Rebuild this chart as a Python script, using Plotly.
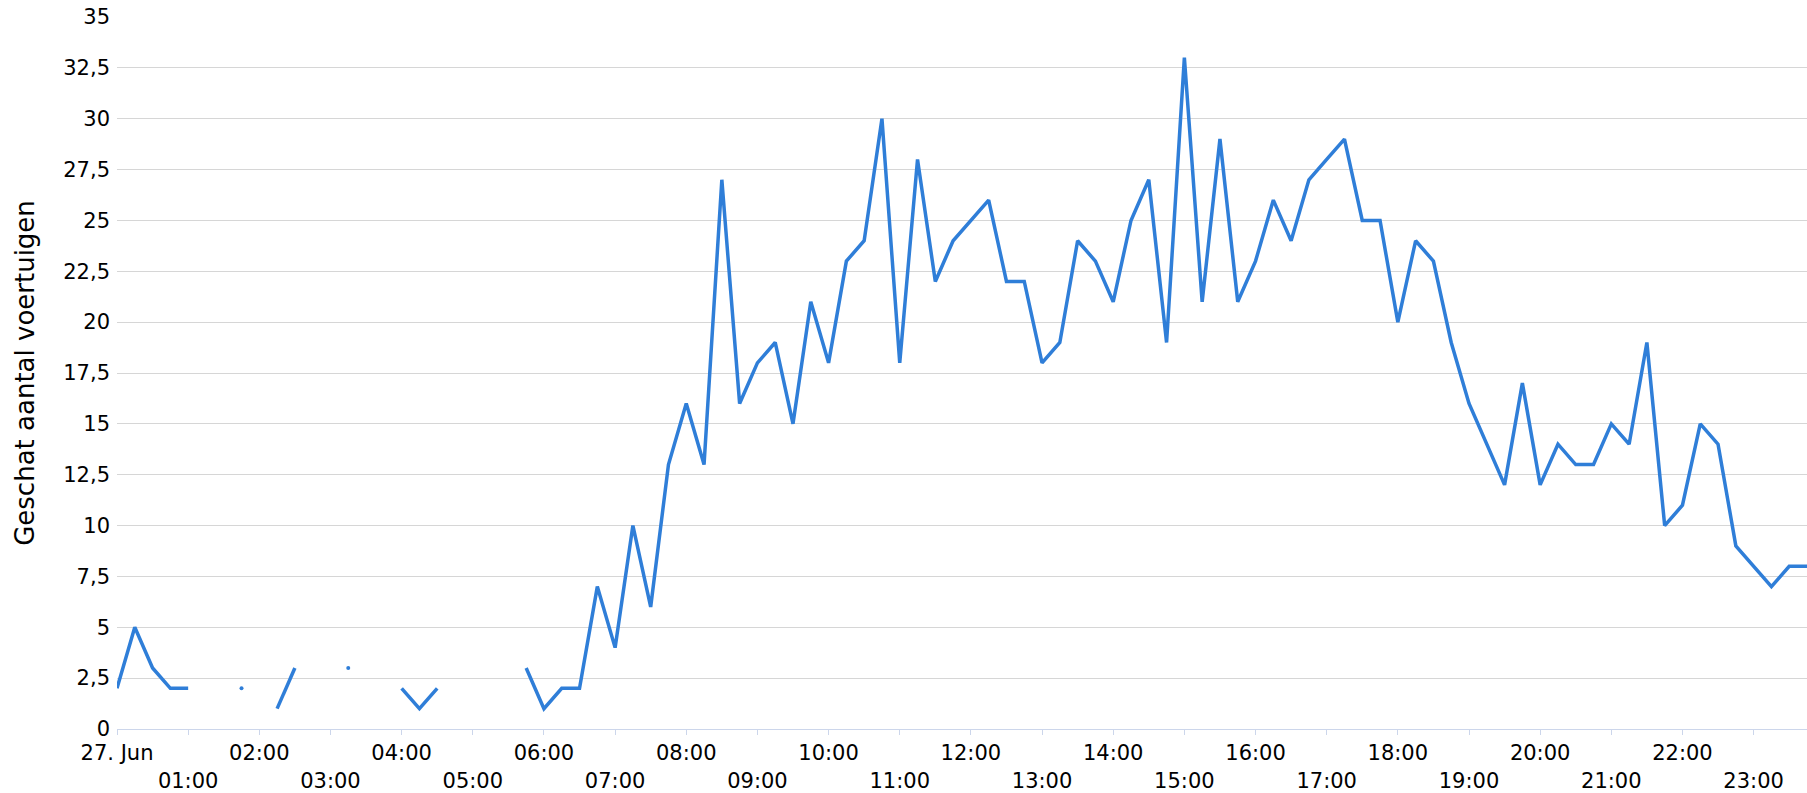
import pandas as pd
import plotly.graph_objects as go

# ---- data (15-minute intervals, 27 June) ----
times = pd.date_range("2024-06-27 00:00", periods=96, freq="15min")
vehicles = [
    2, 5, 3, 2, 2, None, None, 2,            # 00:00 - 01:45
    None, 1, 3, None, None, 3, None, None,   # 02:00 - 03:45
    2, 1, 2, None, None, None, None, 3,      # 04:00 - 05:45
    1, 2, 2, 7, 4, 10, 6, 13,                # 06:00 - 07:45
    16, 13, 27, 16, 18, 19, 15, 21,          # 08:00 - 09:45
    18, 23, 24, 30, 18, 28, 22, 24,          # 10:00 - 11:45
    25, 26, 22, 22, 18, 19, 24, 23,          # 12:00 - 13:45
    21, 25, 27, 19, 33, 21, 29, 21,          # 14:00 - 15:45
    23, 26, 24, 27, 28, 29, 25, 25,          # 16:00 - 17:45
    20, 24, 23, 19, 16, 14, 12, 17,          # 18:00 - 19:45
    12, 14, 13, 13, 15, 14, 19, 10,          # 20:00 - 21:45
    11, 15, 14, 9, 8, 7, 8, 8,               # 22:00 - 23:45
]
hour_ticks = pd.date_range("2024-06-27 00:00", periods=24, freq="1h")
hour_labels = ["27. Jun"] + [f"{h:02d}:00" for h in range(1, 24)]
y_ticks = [i * 2.5 for i in range(15)]
y_title = "Geschat aantal voertuigen"

LINE = "#2f7ed8"
FONT = "DejaVu Sans"

# staggered labels: odd hours on second row
tick_text = [lab if i % 2 == 0 else "<br>" + lab for i, lab in enumerate(hour_labels)]

# isolated points (no neighbours) are drawn as dots
iso_x, iso_y = [], []
for i, v in enumerate(vehicles):
    if v is None:
        continue
    prev_none = i == 0 or vehicles[i - 1] is None
    next_none = i == len(vehicles) - 1 or vehicles[i + 1] is None
    if prev_none and next_none:
        iso_x.append(times[i])
        iso_y.append(v)

fig = go.Figure()
fig.add_trace(go.Scatter(x=times, y=vehicles, mode="lines",
                         line=dict(color=LINE, width=3.5), connectgaps=False,
                         showlegend=False))
fig.add_trace(go.Scatter(x=iso_x, y=iso_y, mode="markers",
                         marker=dict(color=LINE, size=4), showlegend=False))

fig.update_layout(
    width=1807, height=793,
    margin=dict(l=117, r=0, t=17, b=64),
    paper_bgcolor="white", plot_bgcolor="white",
    separators=", ",
    font=dict(family=FONT, size=21, color="#000000"),
    xaxis=dict(
        range=[times[0], times[-1]],
        tickvals=list(hour_ticks), ticktext=tick_text,
        tickangle=0,
        ticks="outside", ticklen=5, tickcolor="#ccd6eb", tickwidth=1,
        showline=True, linecolor="#ccd6eb", linewidth=1,
        showgrid=False, zeroline=False,
        tickfont=dict(family=FONT, size=21, color="#000000"),
        fixedrange=True,
    ),
    yaxis=dict(
        range=[0, 35], tickvals=y_ticks,
        showgrid=True, gridcolor="#d6d6d6", gridwidth=1,
        zeroline=False, showline=False, ticks="",
        ticklabelstandoff=6,
        tickfont=dict(family=FONT, size=21, color="#000000"),
        title=dict(text=y_title, font=dict(family=FONT, size=26, color="#000000"),
                   standoff=21),
        fixedrange=True,
    ),
)

fig.write_html("out.html", config={"displayModeBar": False},
               post_script="document.body.style.margin='0';document.documentElement.style.overflow='hidden';")
